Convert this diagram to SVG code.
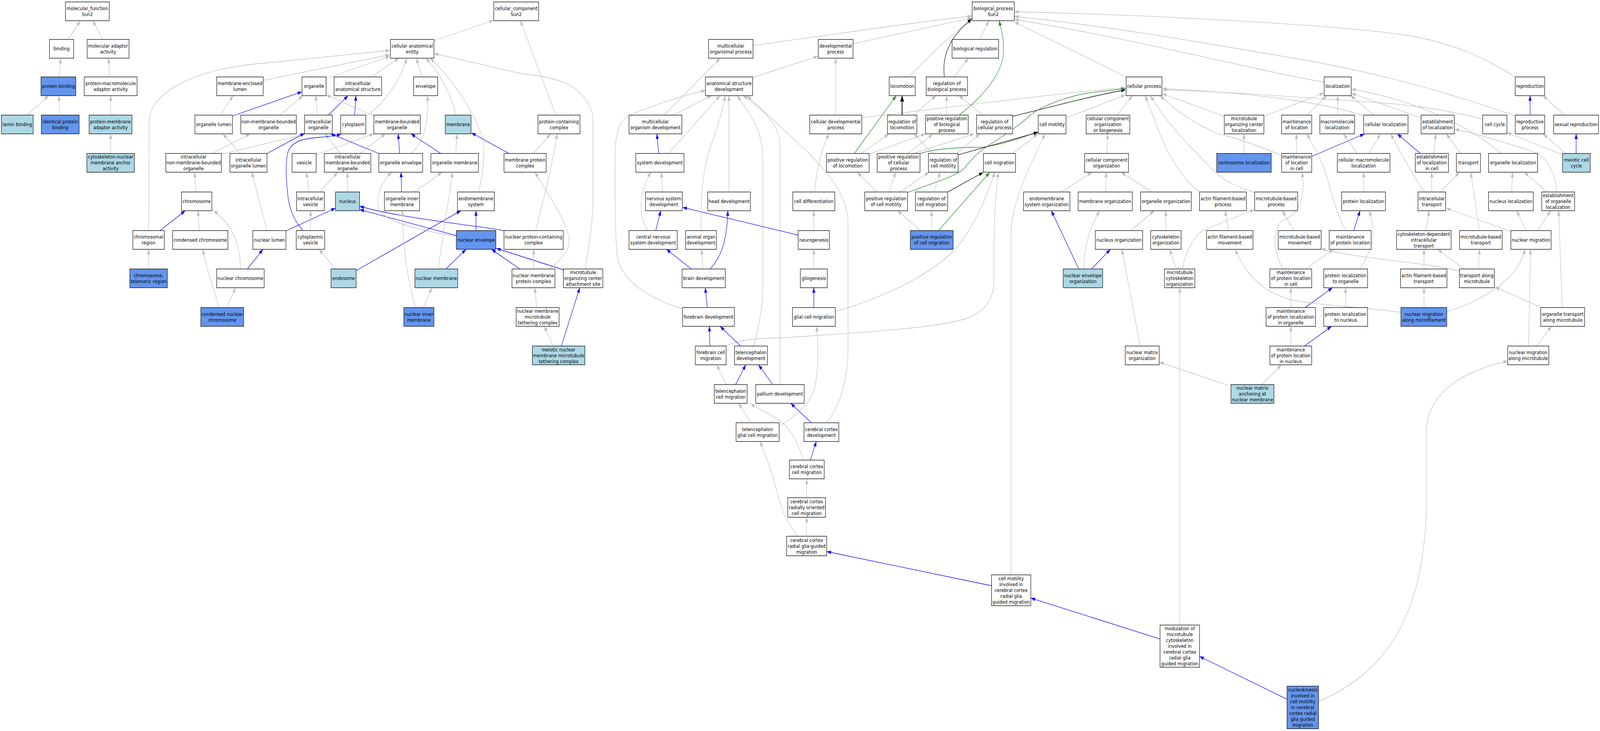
<svg xmlns="http://www.w3.org/2000/svg" width="4781" height="1872" viewBox="0 0 4781 1872" preserveAspectRatio="none" style="width:100vw;height:100vh;display:block">
<style>
.n rect{fill:#fff;stroke:#000;stroke-width:1.3}
.n.lb rect{fill:#add8e6}
.n.cb rect{fill:#6495ed}
text{font-family:"DejaVu Sans","Liberation Sans",sans-serif;font-size:13px;text-anchor:middle;fill:#000}
.e path{fill:none;stroke-width:1.3}
.g{stroke:#bebebe;marker-end:url(#mg)}
.b{stroke:#0000ff;marker-end:url(#mb)}
.v{stroke:#228b22;marker-end:url(#mv)}
.k{stroke:#000;marker-end:url(#mk)}
.e path.k2{stroke:#000;stroke-width:2.2;marker-end:url(#mk2)}
</style>
<defs>
<marker id="mg" markerUnits="userSpaceOnUse" markerWidth="14" markerHeight="10" refX="13" refY="5" orient="auto"><path d="M0,0.4 L13,5 L0,9.6 z" fill="#bebebe"/></marker>
<marker id="mb" markerUnits="userSpaceOnUse" markerWidth="14" markerHeight="10" refX="13" refY="5" orient="auto"><path d="M0,0.4 L13,5 L0,9.6 z" fill="#0000ff"/></marker>
<marker id="mv" markerUnits="userSpaceOnUse" markerWidth="14" markerHeight="10" refX="13" refY="5" orient="auto"><path d="M0,0.4 L13,5 L0,9.6 z" fill="#228b22"/></marker>
<marker id="mk" markerUnits="userSpaceOnUse" markerWidth="14" markerHeight="10" refX="13" refY="5" orient="auto"><path d="M0,0.4 L13,5 L0,9.6 z" fill="#000"/></marker>
<marker id="mk2" markerUnits="userSpaceOnUse" markerWidth="16" markerHeight="12" refX="15" refY="6" orient="auto"><path d="M0,0.3 L15,6 L0,11.7 z" fill="#000"/></marker>
</defs>
<rect width="4781" height="1872" fill="#fff"/>
<g id="connectors" class="e">
<path class="g" d="M203,101 L240,53"/>
<path class="g" d="M307.6,101 L277,53"/>
<path class="g" d="M177,197 L181,149"/>
<path class="g" d="M328,197 L324.5,149"/>
<path class="g" d="M81.6,294.7 L145.4,245"/>
<path class="g" d="M178.6,294.7 L176,245"/>
<path class="g" d="M330.6,294.7 L330.6,245"/>
<path class="g" d="M330.6,393 L330.6,342.7"/>
<path class="g" d="M1296.8,104 L1475,52"/>
<path class="g" d="M1660.5,294.7 L1555,53"/>
<path class="g" d="M975,201 L1165,143.8"/>
<path class="g" d="M786,206 L1165,140"/>
<path class="g" d="M444,590.5 L446,310 C449,230 600,172 800,161 L1165,129"/>
<path class="g" d="M1110.6,197 L1192,149"/>
<path class="g" d="M1092.8,298 C1140,270 1190,220 1216,149"/>
<path class="g" d="M1261,197 L1244,149"/>
<path class="g" d="M1363,294.7 C1350,250 1320,190 1272.3,149"/>
<path class="g" d="M1430.5,491.6 C1447,430 1450,380 1440,350 C1420,290 1350,200 1285,149"/>
<path class="g" d="M1748.8,688.8 C1765,600 1772,560 1772,500 L1772,310 C1772,270 1740,235 1690,212 C1650,200 1600,192 1560,189 L1297,137"/>
<path class="g" d="M658,294.7 L696.4,245"/>
<path class="b" d="M695,297 L902,235"/>
<path class="g" d="M836,294.7 L905,245"/>
<path class="g" d="M948.4,294.7 L943.3,245"/>
<path class="b" d="M981.5,294.7 L1040,245"/>
<path class="b" d="M1059.6,294.7 L1063.7,245"/>
<path class="g" d="M1117,297 L975,243"/>
<path class="g" d="M634,393 L747.5,342.7"/>
<path class="g" d="M661.7,395 C720,382 850,358 912,342.7"/>
<path class="g" d="M717,393 L666,342.7"/>
<path class="b" d="M798,393 L910,341"/>
<path class="g" d="M585.7,491.6 L581.6,441"/>
<path class="g" d="M945.8,396 L1116.7,342.3"/>
<path class="g" d="M1017.2,393 L971.3,342.7"/>
<path class="g" d="M1076,393 L1151.4,342.7"/>
<path class="b" d="M1194.3,393 L1189.7,342.7"/>
<path class="b" d="M1132,393 L988,342.7"/>
<path class="g" d="M1229,393 C1265,365 1282,320 1277.5,245"/>
<path class="b" d="M1317,393 L1228,342.7"/>
<path class="g" d="M1361.6,393 L1365.7,342.7"/>
<path class="b" d="M1520.8,393 L1408.6,340"/>
<path class="g" d="M1593.2,393 L1645.7,342.7"/>
<path class="g" d="M1038.7,491.6 L1038.7,441"/>
<path class="g" d="M923.9,491.6 L915.2,441"/>
<path class="g" d="M955,491.6 L1009.6,441"/>
<path class="b" d="M1200,491.6 L1198.4,441"/>
<path class="g" d="M1239.2,491.6 L1320.8,441"/>
<path class="b" d="M855.5,591 L1002.4,533"/>
<path class="g" d="M798,590.5 L752.6,441"/>
<path class="g" d="M928,590.5 L928,539.6"/>
<path class="b" d="M905,590.5 C880,565 865,540 860,500 C855,460 852,410 862,386 C875,360 910,355 950,352 C990,349 1005,347 1020,342.7"/>
<path class="g" d="M1002,688.8 L953.5,638.5"/>
<path class="b" d="M1064.2,693 L1377,539.6"/>
<path class="b" d="M1422.3,590.5 L1422.3,539.6"/>
<path class="b" d="M1363.7,603.3 L1074.4,536.7"/>
<path class="b" d="M1506,591 C1450,580 1200,560 1074.4,528"/>
<path class="g" d="M1363.7,604.7 C1250,590 1160,570 1135,540 C1120,510 1135,470 1170.3,441"/>
<path class="b" d="M1332.6,688.8 L1392.2,638.5"/>
<path class="g" d="M1309,688.8 L1352.4,441"/>
<path class="g" d="M1264.7,787.6 L1290.2,736.8"/>
<path class="g" d="M1241.7,787.6 C1225,740 1205,660 1202.4,539.6"/>
<path class="b" d="M1553,688.8 L1468.8,638.5"/>
<path class="b" d="M1683.5,691 L1483,636"/>
<path class="g" d="M1594.7,688.8 L1594.7,638.5"/>
<path class="g" d="M1644,688.8 C1680,660 1705,640 1700,610 C1695,570 1640,500 1598.3,441"/>
<path class="g" d="M1600.8,590.5 C1615,540 1650,430 1664.6,342.7"/>
<path class="g" d="M1603.4,787.6 L1598.3,736.8"/>
<path class="g" d="M1653.4,886.2 L1626.3,835.6"/>
<path class="b" d="M1677.3,886.2 L1732.4,736.8"/>
<path class="b" d="M739.3,688.8 L785.7,638.5"/>
<path class="g" d="M718.4,688.8 C718,630 700,580 637.8,539.6"/>
<path class="b" d="M478,590.5 L553.6,539.6"/>
<path class="g" d="M595.4,590.5 L591.8,539.6"/>
<path class="g" d="M444,688.8 L444,638.5"/>
<path class="g" d="M654,787.6 C640,740 620,700 606,638.5"/>
<path class="g" d="M677.6,787.6 L704,736.8"/>
<path class="g" d="M2250,116 C2400,100 2700,60 2904,41"/>
<path class="g" d="M2248.8,198.5 L2444.6,143.8"/>
<path class="g" d="M2549.2,112.2 L2904,45.6"/>
<path class="g" d="M1984.5,294.7 L2151.8,149"/>
<path class="g" d="M2011.5,294.7 L2126.3,245"/>
<path class="b" d="M1968.2,393 L1963,342.7"/>
<path class="g" d="M1997.2,393 L2151.8,245"/>
<path class="g" d="M1981,491.6 L1975.8,441"/>
<path class="g" d="M1936,590.5 C1910,560 1905,500 1945,441"/>
<path class="b" d="M1959.5,590.5 L1974.3,539.6"/>
<path class="g" d="M2178.4,491.6 L2178.4,245"/>
<path class="g" d="M2094.7,590.5 C2094,500 2100,420 2130,360 C2150,310 2162,270 2167,245"/>
<path class="b" d="M2066,688.8 L1991.1,638.5"/>
<path class="g" d="M2099.8,688.8 L2096.7,638.5"/>
<path class="b" d="M2122.2,688.8 C2150,660 2172,630 2174.8,539.6"/>
<path class="b" d="M2113.6,787.6 L2107.4,736.8"/>
<path class="g" d="M2039.6,791 C1940,765 1860,720 1845,660 C1838,620 1838,500 1838,400 C1838,320 1860,300 1900,288 C1960,268 2040,245 2108,231.5"/>
<path class="b" d="M2121.2,886.2 L2119.7,835.6"/>
<path class="g" d="M2169.7,887 C2200,870 2260,866 2340,865 C2600,850 2800,840 2890,815 C2950,795 2970,760 2970,720 L2970,640 C2970,560 2975,500 2983,441"/>
<path class="b" d="M2213,886.2 L2151.8,835.6"/>
<path class="g" d="M2252.4,886.2 C2270,830 2279.4,780 2279.4,730 L2279.4,410 C2279.4,330 2240,290 2202.8,245"/>
<path class="b" d="M2309,984.8 L2266.6,934.2"/>
<path class="g" d="M2330.4,984.8 L2330.4,370 C2330,320 2280,280 2220.7,245"/>
<path class="g" d="M2169.7,984.8 L2141.6,934.2"/>
<path class="b" d="M2197.8,984.8 L2228.4,934.2"/>
<path class="g" d="M2470,1082.6 C2505,1045 2530,990 2534,900 L2534,570 C2534,500 2470,440 2420,395 C2360,345 2280,285 2233,245"/>
<path class="b" d="M2384.9,602 L2039.6,531"/>
<path class="g" d="M2496,797.6 C2650,760 2820,690 2880,610 C2920,560 2950,500 2972.6,441"/>
<path class="b" d="M2431.8,787.6 L2431.8,736.8"/>
<path class="g" d="M2431.8,688.8 L2431.8,638.5"/>
<path class="g" d="M2431.8,590.5 L2431.8,539.6"/>
<path class="g" d="M2434.4,491.6 C2440,430 2455,380 2477.8,342.7"/>
<path class="g" d="M2497.1,294.7 L2497.1,149"/>
<path class="g" d="M2575,301.6 C2900,268 3200,235 3363,225"/>
<path class="g" d="M2716,197 C2780,140 2850,80 2905,53"/>
<path class="g" d="M2927.7,101 L2954.8,53"/>
<path class="g" d="M2851.2,197 L2893.6,149"/>
<path class="k" d="M2822,197 C2815,150 2830,100 2904,48"/>
<path class="v" d="M2865.5,294.7 C2920,260 2990,200 2998,140 C3001,100 2992,75 2985.4,53"/>
<path class="k2" d="M2695.6,294.7 L2695.6,245"/>
<path class="g" d="M2728.8,294.7 L2796.6,245"/>
<path class="g" d="M2828.8,294.7 L2828.8,245"/>
<path class="g" d="M2937,294.7 L2865.5,245"/>
<path class="k" d="M3025.7,298 C3150,272 3250,248 3363,230"/>
<path class="v" d="M2749.5,393 C2790,382 2850,377 2937,377 C3000,370 3060,350 3101.7,337.5"/>
<path class="k" d="M2863,396.7 C2950,375 3050,352 3101.7,339"/>
<path class="v" d="M2712.4,493 C2790,468 2860,450 2880,432 C2900,412 2915,395 2945,378 C2990,352 3040,325 3075,298 C3110,270 3200,245 3253,238 L3363,227"/>
<path class="k" d="M2831.9,491.6 L2938,441.5"/>
<path class="v" d="M2804.3,590.5 L2957.3,441.5"/>
<path class="v" d="M2553,393 L2678,245"/>
<path class="g" d="M2573.7,393 L2656.3,342.7"/>
<path class="g" d="M2597.7,394.2 L2765.5,342.7"/>
<path class="g" d="M2712,393 L2787,344"/>
<path class="g" d="M2730,393 L2911,342.7"/>
<path class="g" d="M2787,393 L2730.8,342.7"/>
<path class="g" d="M2858.8,393 L2928,342.7"/>
<path class="g" d="M2619.6,491.6 L2562,441"/>
<path class="g" d="M2656.3,491.6 L2676.7,441"/>
<path class="g" d="M2689.5,491.6 L2776.2,441"/>
<path class="g" d="M2791.5,491.6 L2809.4,441"/>
<path class="g" d="M2750.7,590.5 L2681.8,539.6"/>
<path class="g" d="M2783.9,590.5 L2783.9,539.6"/>
<path class="g" d="M3025.8,393 L3101.7,342.7"/>
<path class="g" d="M3021,1472.2 L3021,600 C3021,520 3080,420 3123,342.7"/>
<path class="g" d="M3186.2,301.7 L3363,243"/>
<path class="g" d="M3338,294.7 L3383.6,245"/>
<path class="g" d="M3307.8,393 L3309.8,342.7"/>
<path class="g" d="M3303.7,491.6 L3305.2,441"/>
<path class="g" d="M3171,491.6 L3262.9,441"/>
<path class="g" d="M3441.4,491.6 L3349.6,441"/>
<path class="b" d="M3223.6,688.8 L3141.4,539.6"/>
<path class="g" d="M3238.4,688.8 C3240,620 3260,580 3285.8,539.6"/>
<path class="b" d="M3261.8,688.8 L3318,638.5"/>
<path class="g" d="M3379.2,590.5 L3449,539.6"/>
<path class="g" d="M3483.8,590.5 L3483.8,539.6"/>
<path class="g" d="M3515.4,688.8 L3495,638.5"/>
<path class="g" d="M3532.2,688.8 C3545,640 3570,600 3600,588 L3747.5,537"/>
<path class="g" d="M3407.2,886.2 L3352.1,638.5"/>
<path class="g" d="M3678.2,989 L3464.4,927.4"/>
<path class="g" d="M3770.5,984.8 L3829.2,934.2"/>
<path class="g" d="M3749,493 C3700,480 3660,465 3630,440 C3560,380 3480,310 3438,245"/>
<path class="g" d="M3584.3,491.6 C3540,465 3490,400 3460,330 C3445,295 3430,265 3422,245"/>
<path class="g" d="M3866,590.5 L3831.8,539.6"/>
<path class="g" d="M3670.3,590.5 L3661,539.6"/>
<path class="g" d="M3717,393 L3717,342.7"/>
<path class="g" d="M3874,393 L3874,342.7"/>
<path class="g" d="M3829.7,398 C3750,370 3680,350 3641,343 C3580,320 3520,290 3467,245"/>
<path class="g" d="M3658.3,298 L3473,240"/>
<path class="g" d="M3776.6,298 L3956,238"/>
<path class="g" d="M3905.7,294.7 L3964,245"/>
<path class="b" d="M3920.8,400 L4077,343"/>
<path class="g" d="M4020.8,590.5 C3990,540 3975,480 3960,440 C3945,400 3920,370 3906,342.7"/>
<path class="g" d="M3834.3,688.8 C3800,640 3800,575 3840,562 C3890,545 3900,490 3890.4,441"/>
<path class="g" d="M3900.6,688.8 L3984.3,638.5"/>
<path class="g" d="M3857.2,787.6 L3857.2,736.8"/>
<path class="g" d="M3857.2,886.2 L3857.2,835.6"/>
<path class="b" d="M3898,886.2 L3978.7,835.6"/>
<path class="b" d="M3900,787.6 L3981.5,736.8"/>
<path class="g" d="M4186.1,799.7 C4050,785 3920,780 3860,768 C3770,748 3720,700 3691.4,638.5"/>
<path class="g" d="M3997.2,294.7 L3997.2,245"/>
<path class="g" d="M4105.7,294.7 L4036,245"/>
<path class="g" d="M4246.5,301.6 L4038,239"/>
<path class="g" d="M4486,393 C4400,330 4250,260 4038,228"/>
<path class="g" d="M4430.4,305 C4300,275 4150,264 4100,262 C3900,250 3700,236 3474,230"/>
<path class="g" d="M4074.7,296 C3950,262 3750,238 3474,227"/>
<path class="g" d="M4283.8,393 L4290.5,342.7"/>
<path class="b" d="M4243.9,393 L4175.3,342.7"/>
<path class="g" d="M4365.3,393 L4321.4,342.7"/>
<path class="g" d="M4055.6,393 L4015.2,342.7"/>
<path class="g" d="M4091,393 L4124.8,342.7"/>
<path class="g" d="M4074.8,491.6 L4074.8,441"/>
<path class="b" d="M4045,590.5 L4064,539.6"/>
<path class="g" d="M4278.2,491.6 L4278.2,441"/>
<path class="g" d="M4304.6,491.6 L4360.8,441"/>
<path class="g" d="M4256.8,491.6 C4230,460 4190,400 4155.7,342.7"/>
<path class="g" d="M4517,491.6 L4519.8,441"/>
<path class="g" d="M4622,491.6 L4554.6,441"/>
<path class="g" d="M4651.8,491.6 C4648,440 4620,400 4580,388 C4480,360 4400,340 4346.7,331"/>
<path class="g" d="M4260.7,590.5 L4270.9,539.6"/>
<path class="g" d="M4420.9,590.5 L4394.5,441"/>
<path class="g" d="M4514.7,592.8 L4321.4,533"/>
<path class="g" d="M4560.2,590.5 L4532.1,539.6"/>
<path class="g" d="M4595,590.5 L4633.3,539.6"/>
<path class="g" d="M4064,688.8 C4100,640 4115,600 4091,539.6"/>
<path class="g" d="M4255.1,688.8 L4255.1,638.5"/>
<path class="g" d="M4374.8,688.8 L4296.1,638.5"/>
<path class="g" d="M4417,688.8 L4421.4,638.5"/>
<path class="g" d="M4361,694 C4250,670 4050,662 3948,637"/>
<path class="g" d="M4020.8,787.6 L4020.8,736.8"/>
<path class="g" d="M4255.1,787.6 L4255.1,736.8"/>
<path class="g" d="M4323,797.6 C4400,780 4480,740 4520,700 C4540,680 4550,660 4557.4,638.5"/>
<path class="g" d="M4606.9,787.6 L4467.5,735.2"/>
<path class="g" d="M4668,787.6 L4657.5,539.6"/>
<path class="g" d="M4567.5,886.2 L4573.2,638.5"/>
<path class="g" d="M4592.3,886.2 L4636.1,835.6"/>
<path class="b" d="M4572,294.7 L4572,245"/>
<path class="g" d="M4675.4,294.7 L4610.8,245"/>
<path class="b" d="M4709.7,393 L4709.7,342.7"/>
<path class="g" d="M4678.2,393 L4610.8,342.7"/>
<path class="g" d="M4668.7,396.4 L4502.9,339.5"/>
<path class="g" d="M4527.6,197 C4450,155 4350,110 4200,90 C4000,65 3500,40 3031,30"/>
<path class="g" d="M4527.6,296 C4400,260 4200,200 3900,154 C3600,110 3300,65 3031,42"/>
<path class="g" d="M3956.8,210 C3800,190 3400,100 3031,50"/>
<path class="g" d="M3365,197 L3031,56"/>
<path class="g" d="M2402,1178.3 C2380,1130 2365,1100 2330,1077 C2290,1055 2260,1045 2243,1032.8"/>
<path class="b" d="M2421.4,1178.3 L2439.3,1130.6"/>
<path class="b" d="M2424,1082.6 L2362.8,1032.8"/>
<path class="g" d="M2410.2,1274.6 L2410.2,1226.3"/>
<path class="g" d="M2410.2,1373.3 L2410.2,1324.6"/>
<path class="g" d="M2382,1373.3 C2360,1345 2340,1320 2325,1270 C2300,1190 2285,1160 2271,1130.6"/>
<path class="g" d="M2243.9,1082.6 L2207.1,1032.8"/>
<path class="g" d="M2328,1091 C2390,1060 2420,1030 2432,1000 C2448,950 2445,880 2440,835.6"/>
<path class="b" d="M2962.8,1500 L2470.4,1412.5"/>
<path class="b" d="M3466.3,1636.3 L3080.1,1531.6"/>
<path class="g" d="M3525.3,1600.6 L3525.3,736.8"/>
<path class="b" d="M3845.9,1790.7 L3584.2,1681"/>
<path class="g" d="M3939.8,1796.6 C4120,1730 4255,1600 4262,1300 L4262,1100 C4270,990 4400,945 4505.2,924.6"/>
</g>
<g id="n-mf" class="n"><rect x="195.5" y="5" width="131" height="48"/><text><tspan x="261" y="26">molecular_function</tspan><tspan x="261" y="41">Sun2</tspan></text></g>
<g id="n-binding" class="n"><rect x="148" y="101" width="72" height="48"/><text x="184" y="129.5">binding</text></g>
<g id="n-mol-adaptor" class="n"><rect x="260.5" y="101" width="125" height="48"/><text><tspan x="323" y="122">molecular adaptor</tspan><tspan x="323" y="137">activity</tspan></text></g>
<g id="n-protein-binding" class="n cb"><rect x="122.5" y="197" width="104" height="48"/><text x="174.5" y="225.5">protein binding</text></g>
<g id="n-pmaa" class="n"><rect x="251.6" y="197" width="158" height="48"/><text><tspan x="330.6" y="218">protein-macromolecule</tspan><tspan x="330.6" y="233">adaptor activity</tspan></text></g>
<g id="n-lamin" class="n lb"><rect x="4.1" y="294.7" width="95" height="48"/><text x="51.6" y="323.2">lamin binding</text></g>
<g id="n-ipb" class="n cb"><rect x="123.5" y="294.7" width="113" height="48"/><text><tspan x="180" y="315.7">identical protein</tspan><tspan x="180" y="330.7">binding</tspan></text></g>
<g id="n-pma" class="n lb"><rect x="266.3" y="294.7" width="128" height="48"/><text><tspan x="330.3" y="315.7">protein-membrane</tspan><tspan x="330.3" y="330.7">adaptor activity</tspan></text></g>
<g id="n-cnmaa" class="n lb"><rect x="259.6" y="393" width="142" height="48"/><text><tspan x="330.6" y="406.5">cytoskeleton-nuclear</tspan><tspan x="330.6" y="421.5">membrane anchor</tspan><tspan x="330.6" y="436.5">activity</tspan></text></g>
<g id="n-cc" class="n"><rect x="1475.5" y="5" width="134" height="48"/><text><tspan x="1542.5" y="26">cellular_component</tspan><tspan x="1542.5" y="41">Sun2</tspan></text></g>
<g id="n-cae" class="n"><rect x="1166.7" y="101" width="130" height="48"/><text><tspan x="1231.7" y="122">cellular anatomical</tspan><tspan x="1231.7" y="137">entity</tspan></text></g>
<g id="n-mel" class="n"><rect x="647.5" y="197" width="139" height="48"/><text><tspan x="717" y="218">membrane-enclosed</tspan><tspan x="717" y="233">lumen</tspan></text></g>
<g id="n-organelle" class="n"><rect x="902.4" y="197" width="72" height="48"/><text x="938.4" y="225.5">organelle</text></g>
<g id="n-ias" class="n"><rect x="998.3" y="197" width="142" height="48"/><text><tspan x="1069.3" y="218">intracellular</tspan><tspan x="1069.3" y="233">anatomical structure</tspan></text></g>
<g id="n-envelope" class="n"><rect x="1235.8" y="197" width="72" height="48"/><text x="1271.8" y="225.5">envelope</text></g>
<g id="n-pcc" class="n"><rect x="1607.5" y="294.7" width="125.5" height="48"/><text><tspan x="1670.2" y="315.7">protein-containing</tspan><tspan x="1670.2" y="330.7">complex</tspan></text></g>
<g id="n-organelle-lumen" class="n"><rect x="582.5" y="294.7" width="112" height="48"/><text x="638.5" y="323.2">organelle lumen</text></g>
<g id="n-nmbo" class="n"><rect x="719.5" y="294.7" width="166" height="48"/><text><tspan x="802.5" y="315.7">non-membrane-bounded</tspan><tspan x="802.5" y="330.7">organelle</tspan></text></g>
<g id="n-io" class="n"><rect x="909.9" y="294.7" width="83" height="48"/><text><tspan x="951.4" y="315.7">intracellular</tspan><tspan x="951.4" y="330.7">organelle</tspan></text></g>
<g id="n-cytoplasm" class="n"><rect x="1018" y="294.7" width="75" height="48"/><text x="1055.5" y="323.2">cytoplasm</text></g>
<g id="n-mbo" class="n"><rect x="1117.1" y="294.7" width="139" height="48"/><text><tspan x="1186.6" y="315.7">membrane-bounded</tspan><tspan x="1186.6" y="330.7">organelle</tspan></text></g>
<g id="n-membrane" class="n lb"><rect x="1330.5" y="294.7" width="77" height="48"/><text x="1369" y="323.2">membrane</text></g>
<g id="n-inmbo" class="n"><rect x="495.5" y="393" width="166" height="48"/><text><tspan x="578.5" y="406.5">intracellular</tspan><tspan x="578.5" y="421.5">non-membrane-bounded</tspan><tspan x="578.5" y="436.5">organelle</tspan></text></g>
<g id="n-iol" class="n"><rect x="686.9" y="393" width="111" height="48"/><text><tspan x="742.4" y="414">intracellular</tspan><tspan x="742.4" y="429">organelle lumen</tspan></text></g>
<g id="n-vesicle" class="n"><rect x="872.8" y="393" width="72" height="48"/><text x="908.8" y="421.5">vesicle</text></g>
<g id="n-imbo" class="n"><rect x="969.1" y="393" width="139" height="48"/><text><tspan x="1038.6" y="406.5">intracellular</tspan><tspan x="1038.6" y="421.5">membrane-bounded</tspan><tspan x="1038.6" y="436.5">organelle</tspan></text></g>
<g id="n-oe" class="n"><rect x="1131.9" y="393" width="131" height="48"/><text x="1197.4" y="421.5">organelle envelope</text></g>
<g id="n-om" class="n"><rect x="1287.5" y="393" width="142" height="48"/><text x="1358.5" y="421.5">organelle membrane</text></g>
<g id="n-mpc" class="n"><rect x="1506" y="393" width="126" height="48"/><text><tspan x="1569" y="414">membrane protein</tspan><tspan x="1569" y="429">complex</tspan></text></g>
<g id="n-chromosome" class="n"><rect x="542.2" y="491.6" width="91" height="48"/><text x="587.7" y="520.1">chromosome</text></g>
<g id="n-ivesicle" class="n"><rect x="886.2" y="491.6" width="83" height="48"/><text><tspan x="927.7" y="512.6">intracellular</tspan><tspan x="927.7" y="527.6">vesicle</tspan></text></g>
<g id="n-nucleus" class="n lb"><rect x="1002.4" y="491.6" width="72" height="48"/><text x="1038.4" y="520.1">nucleus</text></g>
<g id="n-oim" class="n"><rect x="1148.7" y="491.6" width="105" height="48"/><text><tspan x="1201.2" y="512.6">organelle inner</tspan><tspan x="1201.2" y="527.6">membrane</tspan></text></g>
<g id="n-ems" class="n"><rect x="1367" y="491.6" width="110" height="48"/><text><tspan x="1422" y="512.6">endomembrane</tspan><tspan x="1422" y="527.6">system</tspan></text></g>
<g id="n-chromosomal-region" class="n"><rect x="397" y="590.5" width="94" height="48"/><text><tspan x="444" y="611.5">chromosomal</tspan><tspan x="444" y="626.5">region</tspan></text></g>
<g id="n-condensed-chromosome" class="n"><rect x="516" y="590.5" width="165" height="48"/><text x="598.5" y="619">condensed chromosome</text></g>
<g id="n-nuclear-lumen" class="n"><rect x="755.5" y="590.5" width="99" height="48"/><text x="805" y="619">nuclear lumen</text></g>
<g id="n-cv" class="n"><rect x="885.2" y="590.5" width="85" height="48"/><text><tspan x="927.7" y="611.5">cytoplasmic</tspan><tspan x="927.7" y="626.5">vesicle</tspan></text></g>
<g id="n-ne" class="n cb"><rect x="1363.6" y="590.5" width="118" height="48"/><text x="1422.6" y="619">nuclear envelope</text></g>
<g id="n-npcc" class="n"><rect x="1506" y="590.5" width="177" height="48"/><text><tspan x="1594.5" y="611.5">nuclear protein-containing</tspan><tspan x="1594.5" y="626.5">complex</tspan></text></g>
<g id="n-ctr" class="n cb"><rect x="388" y="688.8" width="112" height="48"/><text><tspan x="444" y="709.8">chromosome,</tspan><tspan x="444" y="724.8">telomeric region</tspan></text></g>
<g id="n-nuclear-chromosome" class="n"><rect x="647.4" y="688.8" width="142" height="48"/><text x="718.4" y="717.3">nuclear chromosome</text></g>
<g id="n-endosome" class="n lb"><rect x="989.2" y="688.8" width="75" height="48"/><text x="1026.7" y="717.3">endosome</text></g>
<g id="n-nuclear-membrane" class="n lb"><rect x="1239.7" y="688.8" width="128" height="48"/><text x="1303.7" y="717.3">nuclear membrane</text></g>
<g id="n-nmpc" class="n"><rect x="1529.8" y="688.8" width="128.5" height="48"/><text><tspan x="1594" y="709.8">nuclear membrane</tspan><tspan x="1594" y="724.8">protein complex</tspan></text></g>
<g id="n-mtoc-as" class="n"><rect x="1683.4" y="688.8" width="118" height="48"/><text><tspan x="1742.4" y="702.3">microtubule</tspan><tspan x="1742.4" y="717.3">organizing center</tspan><tspan x="1742.4" y="732.3">attachment site</tspan></text></g>
<g id="n-cnc" class="n cb"><rect x="600" y="787.6" width="128" height="48"/><text><tspan x="664" y="808.6">condensed nuclear</tspan><tspan x="664" y="823.6">chromosome</tspan></text></g>
<g id="n-nim" class="n cb"><rect x="1206.7" y="787.6" width="90" height="48"/><text><tspan x="1251.7" y="808.6">nuclear inner</tspan><tspan x="1251.7" y="823.6">membrane</tspan></text></g>
<g id="n-nmmtc" class="n"><rect x="1542.3" y="787.6" width="128.4" height="48"/><text><tspan x="1606.5" y="801.1">nuclear membrane</tspan><tspan x="1606.5" y="816.1">microtubule</tspan><tspan x="1606.5" y="831.1">tethering complex</tspan></text></g>
<g id="n-mnmmtc" class="n lb"><rect x="1590.7" y="886.2" width="157" height="48"/><text><tspan x="1669.2" y="899.7">meiotic nuclear</tspan><tspan x="1669.2" y="914.7">membrane microtubule</tspan><tspan x="1669.2" y="929.7">tethering complex</tspan></text></g>
<g id="n-bp" class="n"><rect x="2904.8" y="5" width="126" height="48"/><text><tspan x="2967.8" y="26">biological_process</tspan><tspan x="2967.8" y="41">Sun2</tspan></text></g>
<g id="n-mop" class="n"><rect x="2117.1" y="101" width="133" height="48"/><text><tspan x="2183.6" y="122">multicellular</tspan><tspan x="2183.6" y="137">organismal process</tspan></text></g>
<g id="n-dev-process" class="n"><rect x="2445" y="101" width="104" height="48"/><text><tspan x="2497" y="122">developmental</tspan><tspan x="2497" y="137">process</tspan></text></g>
<g id="n-bio-reg" class="n"><rect x="2845" y="101" width="139" height="48"/><text x="2914.5" y="129.5">biological regulation</text></g>
<g id="n-asd" class="n"><rect x="2107.9" y="197" width="141" height="48"/><text><tspan x="2178.4" y="218">anatomical structure</tspan><tspan x="2178.4" y="233">development</tspan></text></g>
<g id="n-locomotion" class="n"><rect x="2657" y="197" width="78" height="48"/><text x="2696" y="225.5">locomotion</text></g>
<g id="n-rbp" class="n"><rect x="2767.6" y="197" width="123.5" height="48"/><text><tspan x="2829.3" y="218">regulation of</tspan><tspan x="2829.3" y="233">biological process</tspan></text></g>
<g id="n-cellular-process" class="n"><rect x="3365" y="197" width="107" height="48"/><text x="3418.5" y="225.5">cellular process</text></g>
<g id="n-localization" class="n"><rect x="3956.7" y="197" width="81" height="48"/><text x="3997.2" y="225.5">localization</text></g>
<g id="n-reproduction" class="n"><rect x="4527.7" y="197" width="88" height="48"/><text x="4571.7" y="225.5">reproduction</text></g>
<g id="n-mod" class="n"><rect x="1879.5" y="294.7" width="158" height="48"/><text><tspan x="1958.5" y="315.7">multicellular</tspan><tspan x="1958.5" y="330.7">organism development</tspan></text></g>
<g id="n-cdp" class="n"><rect x="2419.6" y="294.7" width="155.6" height="48"/><text><tspan x="2497.4" y="315.7">cellular developmental</tspan><tspan x="2497.4" y="330.7">process</tspan></text></g>
<g id="n-reg-loco" class="n"><rect x="2651.8" y="294.7" width="88" height="48"/><text><tspan x="2695.8" y="315.7">regulation of</tspan><tspan x="2695.8" y="330.7">locomotion</tspan></text></g>
<g id="n-prbp" class="n"><rect x="2765.5" y="294.7" width="127.6" height="48"/><text><tspan x="2829.3" y="308.2">positive regulation</tspan><tspan x="2829.3" y="323.2">of biological</tspan><tspan x="2829.3" y="338.2">process</tspan></text></g>
<g id="n-rcp" class="n"><rect x="2918" y="294.7" width="107.7" height="48"/><text><tspan x="2971.9" y="315.7">regulation of</tspan><tspan x="2971.9" y="330.7">cellular process</tspan></text></g>
<g id="n-cell-motility" class="n"><rect x="3102.3" y="294.7" width="83" height="48"/><text x="3143.8" y="323.2">cell motility</text></g>
<g id="n-ccob" class="n"><rect x="3245.5" y="294.7" width="130.6" height="48"/><text><tspan x="3310.8" y="308.2">cellular component</tspan><tspan x="3310.8" y="323.2">organization</tspan><tspan x="3310.8" y="338.2">or biogenesis</tspan></text></g>
<g id="n-mtoc-loc" class="n"><rect x="3658.3" y="294.7" width="118.4" height="48"/><text><tspan x="3717.5" y="308.2">microtubule</tspan><tspan x="3717.5" y="323.2">organizing center</tspan><tspan x="3717.5" y="338.2">localization</tspan></text></g>
<g id="n-mol" class="n"><rect x="3829.6" y="294.7" width="90" height="48"/><text><tspan x="3874.6" y="315.7">maintenance</tspan><tspan x="3874.6" y="330.7">of location</tspan></text></g>
<g id="n-macro-loc" class="n"><rect x="3943.8" y="294.7" width="104" height="48"/><text><tspan x="3995.8" y="315.7">macromolecule</tspan><tspan x="3995.8" y="330.7">localization</tspan></text></g>
<g id="n-cell-loc" class="n"><rect x="4074.7" y="294.7" width="132.6" height="48"/><text x="4141" y="323.2">cellular localization</text></g>
<g id="n-eol" class="n"><rect x="4246.5" y="294.7" width="99" height="48"/><text><tspan x="4296" y="315.7">establishment</tspan><tspan x="4296" y="330.7">of localization</tspan></text></g>
<g id="n-cell-cycle" class="n"><rect x="4430.4" y="294.7" width="72.5" height="48"/><text x="4466.6" y="323.2">cell cycle</text></g>
<g id="n-repro-process" class="n"><rect x="4527.7" y="294.7" width="88" height="48"/><text><tspan x="4571.7" y="315.7">reproductive</tspan><tspan x="4571.7" y="330.7">process</tspan></text></g>
<g id="n-sexual" class="n"><rect x="4642.5" y="294.7" width="134" height="48"/><text x="4709.5" y="323.2">sexual reproduction</text></g>
<g id="n-sys-dev" class="n"><rect x="1899.8" y="393" width="144" height="48"/><text x="1971.8" y="421.5">system development</text></g>
<g id="n-pr-loco" class="n"><rect x="2469.6" y="393" width="127.5" height="48"/><text><tspan x="2533.4" y="414">positive regulation</tspan><tspan x="2533.4" y="429">of locomotion</tspan></text></g>
<g id="n-prcp" class="n"><rect x="2621.1" y="393" width="128" height="48"/><text><tspan x="2685.1" y="406.5">positive regulation</tspan><tspan x="2685.1" y="421.5">of cellular</tspan><tspan x="2685.1" y="436.5">process</tspan></text></g>
<g id="n-rcm" class="n"><rect x="2774.2" y="393" width="88.8" height="48"/><text><tspan x="2818.6" y="414">regulation of</tspan><tspan x="2818.6" y="429">cell motility</tspan></text></g>
<g id="n-cell-migration" class="n"><rect x="2938.5" y="393" width="96" height="48"/><text x="2986.5" y="421.5">cell migration</text></g>
<g id="n-cco" class="n"><rect x="3241" y="393" width="131" height="48"/><text><tspan x="3306.5" y="414">cellular component</tspan><tspan x="3306.5" y="429">organization</tspan></text></g>
<g id="n-centrosome" class="n cb"><rect x="3635.8" y="393" width="162.8" height="48"/><text x="3717.2" y="421.5">centrosome localization</text></g>
<g id="n-molc" class="n"><rect x="3829.6" y="393" width="90" height="48"/><text><tspan x="3874.6" y="406.5">maintenance</tspan><tspan x="3874.6" y="421.5">of location</tspan><tspan x="3874.6" y="436.5">in cell</tspan></text></g>
<g id="n-cml" class="n"><rect x="3996" y="393" width="157.4" height="48"/><text><tspan x="4074.7" y="414">cellular macromolecule</tspan><tspan x="4074.7" y="429">localization</tspan></text></g>
<g id="n-eolc" class="n"><rect x="4229.2" y="393" width="99" height="48"/><text><tspan x="4278.7" y="406.5">establishment</tspan><tspan x="4278.7" y="421.5">of localization</tspan><tspan x="4278.7" y="436.5">in cell</tspan></text></g>
<g id="n-transport" class="n"><rect x="4351.8" y="393" width="72" height="48"/><text x="4387.8" y="421.5">transport</text></g>
<g id="n-organelle-loc" class="n"><rect x="4447.9" y="393" width="146.7" height="48"/><text x="4521.2" y="421.5">organelle localization</text></g>
<g id="n-meiotic-cc" class="n lb"><rect x="4669.2" y="393" width="82.6" height="48"/><text><tspan x="4710.5" y="414">meiotic cell</tspan><tspan x="4710.5" y="429">cycle</tspan></text></g>
<g id="n-nsd" class="n"><rect x="1928.8" y="491.6" width="110" height="48"/><text><tspan x="1983.8" y="512.6">nervous system</tspan><tspan x="1983.8" y="527.6">development</tspan></text></g>
<g id="n-head-dev" class="n"><rect x="2114.6" y="491.6" width="127.5" height="48"/><text x="2178.3" y="520.1">head development</text></g>
<g id="n-cell-diff" class="n"><rect x="2369" y="491.6" width="125.6" height="48"/><text x="2431.8" y="520.1">cell differentiation</text></g>
<g id="n-prcm" class="n"><rect x="2583.9" y="491.6" width="128" height="48"/><text><tspan x="2647.9" y="512.6">positive regulation</tspan><tspan x="2647.9" y="527.6">of cell motility</tspan></text></g>
<g id="n-rcmig" class="n"><rect x="2735.4" y="491.6" width="96.4" height="48"/><text><tspan x="2783.6" y="512.6">regulation of</tspan><tspan x="2783.6" y="527.6">cell migration</tspan></text></g>
<g id="n-emso" class="n"><rect x="3058.4" y="491.6" width="138.6" height="48"/><text><tspan x="3127.7" y="512.6">endomembrane</tspan><tspan x="3127.7" y="527.6">system organization</tspan></text></g>
<g id="n-mem-org" class="n"><rect x="3221.6" y="491.6" width="162" height="48"/><text x="3302.6" y="520.1">membrane organization</text></g>
<g id="n-org-org" class="n"><rect x="3408.3" y="491.6" width="151.5" height="48"/><text x="3484" y="520.1">organelle organization</text></g>
<g id="n-afbp" class="n"><rect x="3584.3" y="491.6" width="140.3" height="48"/><text><tspan x="3654.5" y="512.6">actin filament-based</tspan><tspan x="3654.5" y="527.6">process</tspan></text></g>
<g id="n-mbp" class="n"><rect x="3749.1" y="491.6" width="128.6" height="48"/><text><tspan x="3813.4" y="512.6">microtubule-based</tspan><tspan x="3813.4" y="527.6">process</tspan></text></g>
<g id="n-protein-loc" class="n"><rect x="4009" y="491.6" width="131" height="48"/><text x="4074.5" y="520.1">protein localization</text></g>
<g id="n-itransport" class="n"><rect x="4237.1" y="491.6" width="82.6" height="48"/><text><tspan x="4278.4" y="512.6">intracellular</tspan><tspan x="4278.4" y="527.6">transport</tspan></text></g>
<g id="n-nucleus-loc" class="n"><rect x="4448" y="491.6" width="133.7" height="48"/><text x="4514.8" y="520.1">nucleus localization</text></g>
<g id="n-eoloc" class="n"><rect x="4606.9" y="491.6" width="98.3" height="48"/><text><tspan x="4656" y="505.1">establishment</tspan><tspan x="4656" y="520.1">of organelle</tspan><tspan x="4656" y="535.1">localization</tspan></text></g>
<g id="n-cnsd" class="n"><rect x="1879.6" y="590.5" width="144" height="48"/><text><tspan x="1951.6" y="611.5">central nervous</tspan><tspan x="1951.6" y="626.5">system development</tspan></text></g>
<g id="n-aod" class="n"><rect x="2048.7" y="590.5" width="92" height="48"/><text><tspan x="2094.7" y="611.5">animal organ</tspan><tspan x="2094.7" y="626.5">development</tspan></text></g>
<g id="n-neurogenesis" class="n"><rect x="2384.9" y="590.5" width="93.4" height="48"/><text x="2431.6" y="619">neurogenesis</text></g>
<g id="n-prcmig" class="n cb"><rect x="2720.1" y="590.5" width="128" height="48"/><text><tspan x="2784.1" y="611.5">positive regulation</tspan><tspan x="2784.1" y="626.5">of cell migration</tspan></text></g>
<g id="n-nucleus-org" class="n"><rect x="3273" y="590.5" width="141.4" height="48"/><text x="3343.7" y="619">nucleus organization</text></g>
<g id="n-cyto-org" class="n"><rect x="3438.4" y="590.5" width="90.8" height="48"/><text><tspan x="3483.8" y="611.5">cytoskeleton</tspan><tspan x="3483.8" y="626.5">organization</tspan></text></g>
<g id="n-afbm" class="n"><rect x="3605.2" y="590.5" width="138.8" height="48"/><text><tspan x="3674.6" y="611.5">actin filament-based</tspan><tspan x="3674.6" y="626.5">movement</tspan></text></g>
<g id="n-mbm" class="n"><rect x="3819.5" y="590.5" width="128.3" height="48"/><text><tspan x="3883.6" y="611.5">microtubule-based</tspan><tspan x="3883.6" y="626.5">movement</tspan></text></g>
<g id="n-mpl" class="n"><rect x="3971.9" y="590.5" width="125.3" height="48"/><text><tspan x="4034.5" y="611.5">maintenance</tspan><tspan x="4034.5" y="626.5">of protein location</tspan></text></g>
<g id="n-cdit" class="n"><rect x="4173.1" y="590.5" width="163" height="48"/><text><tspan x="4254.6" y="604">cytoskeleton-dependent</tspan><tspan x="4254.6" y="619">intracellular</tspan><tspan x="4254.6" y="634">transport</tspan></text></g>
<g id="n-mbt" class="n"><rect x="4361.2" y="590.5" width="127.6" height="48"/><text><tspan x="4425" y="611.5">microtubule-based</tspan><tspan x="4425" y="626.5">transport</tspan></text></g>
<g id="n-nuclear-migration" class="n"><rect x="4514.7" y="590.5" width="120.2" height="48"/><text x="4574.8" y="619">nuclear migration</text></g>
<g id="n-brain-dev" class="n"><rect x="2038.1" y="688.8" width="129" height="48"/><text x="2102.6" y="717.3">brain development</text></g>
<g id="n-gliogenesis" class="n"><rect x="2391.5" y="688.8" width="80.6" height="48"/><text x="2431.8" y="717.3">gliogenesis</text></g>
<g id="n-neo" class="n lb"><rect x="3177" y="688.8" width="118" height="48"/><text><tspan x="3236" y="709.8">nuclear envelope</tspan><tspan x="3236" y="724.8">organization</tspan></text></g>
<g id="n-mco" class="n"><rect x="3479.6" y="688.8" width="90.8" height="48"/><text><tspan x="3525" y="702.3">microtubule</tspan><tspan x="3525" y="717.3">cytoskeleton</tspan><tspan x="3525" y="732.3">organization</tspan></text></g>
<g id="n-moplc" class="n"><rect x="3794.5" y="688.8" width="125" height="48"/><text><tspan x="3857" y="702.3">maintenance</tspan><tspan x="3857" y="717.3">of protein location</tspan><tspan x="3857" y="732.3">in cell</tspan></text></g>
<g id="n-plto" class="n"><rect x="3955.5" y="688.8" width="131" height="48"/><text><tspan x="4021" y="709.8">protein localization</tspan><tspan x="4021" y="724.8">to organelle</tspan></text></g>
<g id="n-afbt" class="n"><rect x="4184.9" y="688.8" width="138.8" height="48"/><text><tspan x="4254.3" y="709.8">actin filament-based</tspan><tspan x="4254.3" y="724.8">transport</tspan></text></g>
<g id="n-tam" class="n"><rect x="4360.8" y="688.8" width="104.5" height="48"/><text><tspan x="4413" y="709.8">transport along</tspan><tspan x="4413" y="724.8">microtubule</tspan></text></g>
<g id="n-forebrain-dev" class="n"><rect x="2039.5" y="787.6" width="155" height="48"/><text x="2117" y="816.1">forebrain development</text></g>
<g id="n-glial-cm" class="n"><rect x="2368" y="787.6" width="128" height="48"/><text x="2432" y="816.1">glial cell migration</text></g>
<g id="n-moplo" class="n"><rect x="3783.2" y="787.6" width="147.6" height="48"/><text><tspan x="3857" y="801.1">maintenance</tspan><tspan x="3857" y="816.1">of protein localization</tspan><tspan x="3857" y="831.1">in organelle</tspan></text></g>
<g id="n-pltn" class="n"><rect x="3955.5" y="787.6" width="131" height="48"/><text><tspan x="4021" y="808.6">protein localization</tspan><tspan x="4021" y="823.6">to nucleus</tspan></text></g>
<g id="n-nmamf" class="n cb"><rect x="4186.1" y="787.6" width="137" height="48"/><text><tspan x="4254.6" y="808.6">nuclear migration</tspan><tspan x="4254.6" y="823.6">along microfilament</tspan></text></g>
<g id="n-otam" class="n"><rect x="4604" y="787.6" width="131" height="48"/><text><tspan x="4669.5" y="808.6">organelle transport</tspan><tspan x="4669.5" y="823.6">along microtubule</tspan></text></g>
<g id="n-fcm" class="n"><rect x="2077.8" y="886.2" width="92" height="48"/><text><tspan x="2123.8" y="907.2">forebrain cell</tspan><tspan x="2123.8" y="922.2">migration</tspan></text></g>
<g id="n-tel-dev" class="n"><rect x="2194.8" y="886.2" width="98.5" height="48"/><text><tspan x="2244" y="907.2">telencephalon</tspan><tspan x="2244" y="922.2">development</tspan></text></g>
<g id="n-nmo" class="n"><rect x="3362.3" y="886.2" width="101.5" height="48"/><text><tspan x="3413" y="907.2">nuclear matrix</tspan><tspan x="3413" y="922.2">organization</tspan></text></g>
<g id="n-mopln" class="n"><rect x="3794.5" y="886.2" width="125" height="48"/><text><tspan x="3857" y="899.7">maintenance</tspan><tspan x="3857" y="914.7">of protein location</tspan><tspan x="3857" y="929.7">in nucleus</tspan></text></g>
<g id="n-nmamt" class="n"><rect x="4505.2" y="886.2" width="123" height="48"/><text><tspan x="4566.7" y="907.2">nuclear migration</tspan><tspan x="4566.7" y="922.2">along microtubule</tspan></text></g>
<g id="n-tcm" class="n"><rect x="2134.5" y="984.8" width="98" height="48"/><text><tspan x="2183.5" y="1005.8">telencephalon</tspan><tspan x="2183.5" y="1020.8">cell migration</tspan></text></g>
<g id="n-pallium-dev" class="n"><rect x="2258.2" y="984.8" width="144.8" height="48"/><text x="2330.6" y="1013.3">pallium development</text></g>
<g id="n-nmaanm" class="n lb"><rect x="3678.2" y="984.8" width="128.5" height="48"/><text><tspan x="3742.5" y="998.3">nuclear matrix</tspan><tspan x="3742.5" y="1013.3">anchoring at</tspan><tspan x="3742.5" y="1028.3">nuclear membrane</tspan></text></g>
<g id="n-tgcm" class="n"><rect x="2199.5" y="1082.6" width="128.6" height="48"/><text><tspan x="2263.8" y="1103.6">telencephalon</tspan><tspan x="2263.8" y="1118.6">glial cell migration</tspan></text></g>
<g id="n-ccd" class="n"><rect x="2402.5" y="1082.6" width="104" height="48"/><text><tspan x="2454.5" y="1103.6">cerebral cortex</tspan><tspan x="2454.5" y="1118.6">development</tspan></text></g>
<g id="n-cccm" class="n"><rect x="2358.8" y="1178.3" width="104" height="48"/><text><tspan x="2410.8" y="1199.3">cerebral cortex</tspan><tspan x="2410.8" y="1214.3">cell migration</tspan></text></g>
<g id="n-ccrocm" class="n"><rect x="2354" y="1274.6" width="112.8" height="50"/><text><tspan x="2410.4" y="1289.1">cerebral cortex</tspan><tspan x="2410.4" y="1304.1">radially oriented</tspan><tspan x="2410.4" y="1319.1">cell migration</tspan></text></g>
<g id="n-ccrggm" class="n"><rect x="2350.4" y="1373.3" width="120" height="50"/><text><tspan x="2410.4" y="1387.8">cerebral cortex</tspan><tspan x="2410.4" y="1402.8">radial glia-guided</tspan><tspan x="2410.4" y="1417.8">migration</tspan></text></g>
<g id="n-cmi" class="n"><rect x="2962.9" y="1472.2" width="117.3" height="79"/><text><tspan x="3021.5" y="1486.2">cell motility</tspan><tspan x="3021.5" y="1501.2">involved in</tspan><tspan x="3021.5" y="1516.2">cerebral cortex</tspan><tspan x="3021.5" y="1531.2">radial glia</tspan><tspan x="3021.5" y="1546.2">guided migration</tspan></text></g>
<g id="n-modulation" class="n"><rect x="3466.3" y="1600.6" width="118" height="108"/><text><tspan x="3525.3" y="1614.1">modulation of</tspan><tspan x="3525.3" y="1629.1">microtubule</tspan><tspan x="3525.3" y="1644.1">cytoskeleton</tspan><tspan x="3525.3" y="1659.1">involved in</tspan><tspan x="3525.3" y="1674.1">cerebral cortex</tspan><tspan x="3525.3" y="1689.1">radial glia</tspan><tspan x="3525.3" y="1704.1">guided migration</tspan></text></g>
<g id="n-nucleokinesis" class="n cb"><rect x="3845.8" y="1757.2" width="94" height="109"/><text><tspan x="3892.8" y="1771.2">nucleokinesis</tspan><tspan x="3892.8" y="1786.2">involved in</tspan><tspan x="3892.8" y="1801.2">cell motility</tspan><tspan x="3892.8" y="1816.2">in cerebral</tspan><tspan x="3892.8" y="1831.2">cortex radial</tspan><tspan x="3892.8" y="1846.2">glia guided</tspan><tspan x="3892.8" y="1861.2">migration</tspan></text></g>
</svg>
